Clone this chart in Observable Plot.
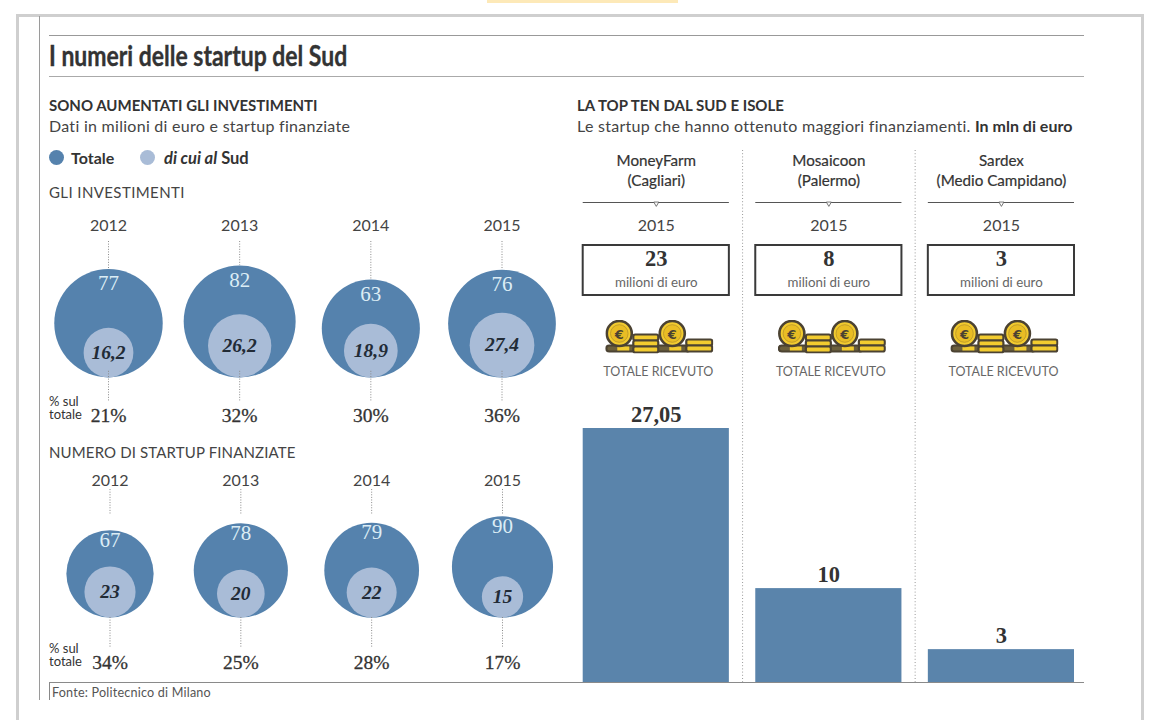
<!DOCTYPE html>
<html lang="it">
<head>
<meta charset="utf-8">
<script src="https://cdn.jsdelivr.net/npm/d3@7"></script>
<script src="https://cdn.jsdelivr.net/npm/@observablehq/plot@0.6"></script>
<style>
html,body{margin:0;padding:0;background:#fff;}
#page{position:relative;width:1149px;height:720px;overflow:hidden;background:#fff;color:#333;font-family:Lato,sans-serif;}
#page>*{position:absolute;}
#page svg{display:block;background:transparent;}
.t{white-space:nowrap;line-height:1;transform-origin:left center;}
</style>
</head>
<body>
<div id="page">
  <div style="left:487px;top:0;width:191px;height:3px;background:#fde9b8"></div>
  <div style="left:16px;top:14px;width:1122px;height:706px;border:solid #cfcfcf;border-width:3px 3px 0 3px"></div>
  <div style="left:39px;top:16px;width:1px;height:684px;background:#9a9a9a"></div>
  <div style="left:49px;top:34.5px;width:1035px;height:1px;background:#999"></div>
  <div style="left:49px;top:75.5px;width:1035px;height:1.5px;background:#aaa"></div>
  <div style="left:49px;top:682px;width:1px;height:18px;background:#888"></div>

  <div class="t" style="left:49px;top:38px;font:700 28px Lato;color:#333;transform:scaleX(.82);-webkit-text-stroke:.35px #333">I numeri delle startup del Sud</div>
  <div class="t" style="left:49px;top:96px;font:700 15px Lato;color:#333">SONO AUMENTATI GLI INVESTIMENTI</div>
  <div class="t" style="left:49px;top:116px;font:400 16px Lato;color:#444;letter-spacing:.28px">Dati in milioni di euro e startup finanziate</div>
  <div style="left:49px;top:150px;width:15px;height:15px;border-radius:50%;background:#5582ad"></div>
  <div class="t" style="left:71px;top:148px;font:700 16px Lato;color:#333">Totale</div>
  <div style="left:140px;top:150px;width:15px;height:15px;border-radius:50%;background:#a9bcd7"></div>
  <div class="t" style="left:164px;top:148px;font:700 16.5px Lato;color:#333"><i>di cui al</i> Sud</div>
  <div class="t" style="left:49px;top:183px;font:400 15px Lato;color:#444;letter-spacing:.4px">GLI INVESTIMENTI</div>
  <div class="t" style="left:49px;top:443px;font:400 15px Lato;color:#444;letter-spacing:.14px">NUMERO DI STARTUP FINANZIATE</div>
  <div class="t" style="left:49px;top:395px;font:400 13px/13px Lato;color:#333;white-space:pre">% sul
totale</div>
  <div class="t" style="left:49px;top:642px;font:400 13px/13px Lato;color:#333;white-space:pre">% sul
totale</div>
  <div class="t" style="left:577px;top:96px;font:700 15px Lato;color:#333">LA TOP TEN DAL SUD E ISOLE</div>
  <div class="t" style="left:577px;top:116px;font:400 16px Lato;color:#444;letter-spacing:.27px">Le startup che hanno ottenuto maggiori finanziamenti. <b style="color:#333;letter-spacing:0">In mln di euro</b></div>
  <div class="t" style="left:52px;top:685px;font:400 12.6px Lato;color:#555;letter-spacing:.2px">Fonte: Politecnico di Milano</div>
  <div id="right" style="left:0;top:150px"></div>
  <div id="p1" style="left:0;top:210px"></div>
  <div id="p2" style="left:0;top:465px"></div>
</div>
<script>
// ---- data ----
const years = ["2012", "2013", "2014", "2015"];
const investTotal = [77, 82, 63, 76];
const investSouth = [16.2, 26.2, 18.9, 27.4];
const investShare = ["21%", "32%", "30%", "36%"];
const startupTotal = [67, 78, 79, 90];
const startupSouth = [23, 20, 22, 15];
const startupShare = ["34%", "25%", "28%", "17%"];

const startupNames = ["MoneyFarm\n(Cagliari)", "Mosaicoon\n(Palermo)", "Sardex\n(Medio Campidano)"];
const roundYear = ["2015", "2015", "2015"];
const roundAmount = ["23", "8", "3"];
const receivedValues = [27.05, 10, 3.5];
const receivedLabels = ["27,05", "10", "3"];

// ---- colours and fonts ----
const DARK = "#5582ad", LIGHT = "#a9bcd7", BAR = "#5a84ab", SERIF = "'Liberation Serif', serif", SANS = "Lato, sans-serif";
const comma = v => String(v).replace(".", ",");

function circles(el, o) {
  const rows = years.map((year, i) => ({year, total: o.total[i], south: o.south[i], share: o.share[i]}));
  const root = d => Math.sqrt(d);
  const k = o.k;
  const plot = Plot.plot({
    width: 560, height: o.height, margin: 0,
    x: {type: "point", domain: years, range: o.xRange, padding: 0, round: false, axis: null},
    y: {domain: [-(o.height - o.base) / k, o.base / k], range: [o.height, 0], axis: null},
    r: {type: "sqrt", domain: [0, 100], range: [0, 10 * k]},
    style: {background: "transparent"},
    marks: [
      Plot.ruleX(rows, {x: "year", y1: o.ruleTop, y2: d => o.ruleToCircle ? 2 * root(d.total) : o.ruleEnd, stroke: "#8a8a8a", strokeWidth: 1, strokeDasharray: "1 1.6"}),
      Plot.dot(rows, {x: "year", y: d => root(d.total), r: "total", fill: DARK}),
      Plot.dot(rows, {x: "year", y: d => root(d.south), r: "south", fill: LIGHT}),
      Plot.ruleX(rows, {x: "year", y1: o.ruleLow1, y2: o.ruleLow2, stroke: "#8a8a8a", strokeWidth: 1, strokeDasharray: "1 1.6"}),
      Plot.text(rows, {x: "year", y: d => 2 * root(d.total), dy: o.totalDy, text: d => comma(d.total), fill: "#dcedf5", fontFamily: SERIF, fontSize: 21}),
      Plot.text(rows, {x: "year", y: d => root(d.south), text: d => comma(d.south), fill: "#222b36", fontFamily: SERIF, fontSize: 19.5, fontWeight: 700, fontStyle: "italic"}),
      Plot.text(rows, {x: "year", text: "year", frameAnchor: "top", lineAnchor: "middle", dy: 15, fill: "#444", fontFamily: SANS, fontSize: 16}),
      Plot.text(rows, {x: "year", text: "share", frameAnchor: "bottom", lineAnchor: "middle", dy: -15, fill: "#333", fontFamily: SERIF, fontSize: 19.5, stroke: "#333", strokeWidth: .3})
    ]
  });
  document.getElementById(el).append(plot);
}

circles("p1", {total: investTotal, south: investSouth, share: investShare, k: 6.18, height: 220, base: 167,
  xRange: [108, 501.5], ruleTop: 22, ruleToCircle: true, ruleLow1: 1, ruleLow2: -3.8, totalDy: 14.5});
circles("p2", {total: startupTotal, south: startupSouth, share: startupShare, k: 5.33, height: 212, base: 152,
  xRange: [109.5, 502], ruleTop: 24, ruleToCircle: false, ruleEnd: 19.3, ruleLow1: 0, ruleLow2: -5.6, totalDy: 10});

// coin icon
const coin = cx => `<circle cx="${cx}" cy="14" r="12.5" fill="#f2cb2f" stroke="#4b4232" stroke-width="2.6"/><circle cx="${cx}" cy="14" r="8.8" fill="#e9bd24" stroke="#b8942a" stroke-width=".8"/><text x="${cx}" y="19" text-anchor="middle" font-family="DejaVu Sans" font-weight="700" font-size="13" fill="#4b4232">€</text>`;
const stack = (x, y, w, n) => Array.from({length: n}, (_, i) => `<rect x="${x}" y="${y + i * 6}" width="${w}" height="6" rx="2" fill="#f2cb2f" stroke="#4b4232" stroke-width="2.2"/>`).join("");
const coinSvg = `<svg xmlns="http://www.w3.org/2000/svg" width="108" height="34" viewBox="0 0 108 34"><rect x="1" y="26" width="84" height="6" rx="3" fill="#6b5f3c" stroke="#4b4232" stroke-width="2.2"/><rect x="12" y="27" width="12" height="4" fill="#f2cb2f"/><rect x="64" y="27" width="12" height="4" fill="#f2cb2f"/>${stack(28, 15, 25, 3)}${stack(81, 20, 26, 2)}${coin(14)}${coin(67)}</svg>`;
const coinSrc = "data:image/svg+xml;charset=utf-8," + encodeURIComponent(coinSvg);

const tops = startupNames.map((name, i) => ({name, year: roundYear[i], amount: roundAmount[i], value: receivedValues[i], label: receivedLabels[i]}));
const H = 540;
document.getElementById("right").append(Plot.plot({
  width: 1149, height: H, margin: 0,
  x: {type: "band", domain: startupNames, range: [582.7, 1074], paddingInner: 0.153, paddingOuter: 0, round: false, axis: null},
  y: {domain: [0, 532 / 9.39], range: [532, 0], axis: null},
  style: {background: "transparent"},
  marks: [
    Plot.ruleX(startupNames.slice(0, 2), {x: d => d, dx: 86.3, insetBottom: 8, stroke: "#999", strokeDasharray: "1 2.2"}),
    Plot.text(tops, {x: "name", text: "name", frameAnchor: "top", lineAnchor: "middle", dy: 19.5, lineHeight: 1.3, fill: "#333", stroke: "#333", strokeWidth: .2, fontFamily: SANS, fontSize: 15.2}),
    Plot.cell(tops, {x: "name", insetTop: 52, insetBottom: H - 53, fill: "#555"}),
    Plot.dot(tops, {x: "name", frameAnchor: "top", dy: 53, symbol: "triangle2", r: 2.4, rotate: 180, fill: "#fff", stroke: "#555", strokeWidth: .8}),
    Plot.text(tops, {x: "name", text: "year", frameAnchor: "top", lineAnchor: "middle", dy: 75, fill: "#444", fontFamily: SANS, fontSize: 16}),
    Plot.cell(tops, {x: "name", insetTop: 95, insetBottom: H - 145, fill: "none", stroke: "#3a3a3a", strokeWidth: 2}),
    Plot.text(tops, {x: "name", text: "amount", frameAnchor: "top", lineAnchor: "middle", dy: 108, fill: "#333", fontFamily: SERIF, fontSize: 22.5, fontWeight: 700}),
    Plot.text(tops, {x: "name", text: () => "milioni di euro", frameAnchor: "top", lineAnchor: "middle", dy: 132, fill: "#666", fontFamily: SANS, fontSize: 13.3}),
    Plot.image(tops, {x: "name", frameAnchor: "top", dx: 3, dy: 186, width: 108, height: 34, preserveAspectRatio: "none", src: () => coinSrc}),
    Plot.text(tops, {x: "name", text: () => "TOTALE RICEVUTO", frameAnchor: "top", lineAnchor: "middle", dx: 2, dy: 221.5, fill: "#666", fontFamily: SANS, fontSize: 12.5}),
    Plot.barY(tops, {x: "name", y: "value", fill: BAR}),
    Plot.text(tops, {x: "name", y: "value", dy: -14, text: "label", fill: "#333", fontFamily: SERIF, fontSize: 22.5, fontWeight: 700}),
    Plot.ruleY([0], {insetLeft: 49, insetRight: 65, stroke: "#8a8a8a", strokeWidth: 1.2})
  ]
}));
</script>
</body>
</html>
